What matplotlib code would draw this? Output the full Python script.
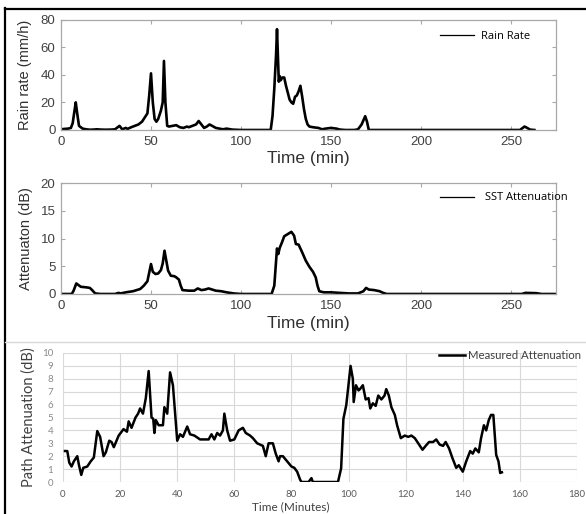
import matplotlib
matplotlib.use("Agg")
import matplotlib.pyplot as plt
from matplotlib.lines import Line2D

# ---------------- data ----------------
rain_t = [0, 2, 4, 5.5, 6.5, 7.5, 8.2, 9, 10, 12, 14, 16, 18, 20, 22, 25, 28, 30, 31.5, 32.5, 34, 36, 37,
          39, 41, 43, 45, 47, 48, 49, 50, 51, 52, 53, 54, 55.5, 56.5, 57.2, 58, 59, 60, 62, 64, 66, 68, 70,
          71, 73, 75, 76.5, 78, 79.5, 81, 82.5, 84, 86, 88, 90, 92, 95, 100, 110, 116.5, 117.5, 118.5, 119.5,
          120, 120.6, 121, 121.5, 122, 123, 124, 125, 126, 127, 128, 129, 130, 131, 132, 133, 134, 135, 136,
          137, 138, 140, 143, 145, 147, 150, 153, 155, 158, 163, 165, 167, 169, 170, 171, 180, 200, 230, 255,
          257.5, 259, 260.5, 263]
rain_v = [0.5, 0.8, 1, 1.5, 5, 14, 20, 12, 3, 1, 0.5, 0.2, 0.3, 0.5, 0.3, 0.2, 0.3, 0.5, 2, 3, 0.5, 1.5, 0.8,
          2, 3, 4, 6, 10, 12, 25, 41, 20, 8, 6, 8, 14, 20, 50, 20, 3, 2.5, 3, 3.5, 2, 1.5, 2.5,
          2, 3, 4, 6.5, 4, 1.5, 2.5, 4, 3, 1.5, 1, 0.5, 1, 0.3, 0, 0, 0, 10, 30, 55,
          73, 50, 35, 39, 36, 38, 38, 32, 27, 22, 20, 19, 24, 25, 28, 32, 24, 15, 8,
          4, 2.5, 2, 1.5, 0.5, 1, 1.5, 1, 0.3, 0, 0, 0.5, 4, 10, 6, 0, 0, 0, 0, 0,
          2.5, 1.5, 0.3, 0]

sst_t = [0, 6, 7, 8.5, 11, 14, 16, 17, 19, 22, 30, 32, 33, 36, 40, 44, 46, 48, 50, 51, 52.5, 54, 55.5, 56.5,
         57.5, 58.5, 59.5, 61, 63, 64, 65.5, 66.5, 67.5, 71, 74, 76, 78, 80, 82, 84, 86, 89, 92, 96, 100,
         117, 118.5, 119.5, 120, 120.7, 121.5, 123, 124, 125.5, 127, 128, 129.5, 130.5, 132, 134, 136, 138,
         140, 141.5, 142.5, 143.5, 146, 150, 155, 160, 165, 168, 169.5, 171, 174, 177, 179, 181, 256, 258,
         264, 267, 275]
sst_v = [0, 0, 0.6, 1.9, 1.3, 1.2, 1.1, 0.8, 0.1, 0, 0, 0.2, 0.1, 0.3, 0.5, 0.9, 1.5, 2.3, 5.4, 4, 3.6, 3.7,
         4.3, 5.5, 7.8, 6, 4.2, 3.3, 3.2, 3, 2.6, 1.5, 0.7, 0.6, 0.6, 1.0, 0.7, 0.8, 1.0, 0.8, 0.6, 0.5, 0.3,
         0.1, 0, 0, 1.5, 6, 8.2, 7.2, 8.3, 9.5, 10.4, 10.7, 11.0, 11.2, 10.5, 9, 8.9, 7.5, 6, 4.9, 4, 3, 1.5,
         0.5, 0.3, 0.3, 0.2, 0.1, 0.1, 0.5, 1.1, 0.8, 0.7, 0.5, 0.2, 0, 0, 0.2, 0.15, 0, 0]

meas_t = [0.7, 1.5, 2.2, 3, 3.8, 5, 5.6, 6.4, 7.1, 8.5, 9.7, 10.8, 12, 13, 14.2, 15, 16.2, 17, 17.8, 19.5,
          21.2, 22.4, 23, 24, 25.4, 26.3, 27, 28, 29, 30, 31, 31.6, 32, 32.5, 33.5, 35, 35.5, 36.5, 37.5,
          38.5, 40, 41, 42, 43.5, 44.5, 46, 48, 51, 52, 53, 54, 55, 56, 56.5, 57.5, 58.5, 60, 61.5, 63, 64,
          65.5, 66.5, 68, 70, 71, 72, 73.5, 74.5, 75.5, 76, 77, 78.5, 80, 81, 82, 83, 83.5, 86, 87, 87.5,
          96.3, 97.4, 98.2, 99.2, 100.7, 101.5, 101.8, 102.6, 103.5, 104, 105, 106, 107, 107.6, 108.5, 109.5,
          110.4, 111.5, 112.6, 113.2, 114.1, 115, 116.2, 117, 118.3, 119.7, 120.9, 122, 123.2, 124.4, 125.9,
          127, 128.2, 129.6, 130.7, 131.9, 133.1, 134, 135.2, 136.3, 137.7, 138.6, 140, 141.2, 142.6, 143.5,
          144.4, 145.6, 146.4, 147.4, 148.2, 149.1, 149.9, 150.7, 151.7, 152.5, 153.1, 153.7]
meas_v = [2.4, 2.4, 1.5, 1.2, 1.6, 2.0, 1.3, 0.55, 1.1, 1.2, 1.6, 1.9, 3.95, 3.5, 2.0, 2.3, 3.2, 3.1, 2.7,
          3.6, 4.1, 3.9, 4.7, 4.2, 5.0, 5.3, 5.7, 5.3, 6.5, 8.6, 5.0, 4.9, 3.8, 4.8, 4.4, 4.4, 5.8, 5.3, 8.5,
          7.5, 3.2, 3.7, 3.5, 4.3, 3.7, 3.6, 3.3, 3.3, 3.7, 3.3, 3.8, 3.6, 4.0, 5.3, 4.0, 3.2, 3.3, 4.0, 4.2,
          3.8, 3.6, 3.4, 3.0, 2.8, 2.0, 3.0, 3.0, 2.2, 1.6, 2.0, 2.0, 1.6, 1.2, 1.1, 0.8, 0.2, 0, 0, 0.3, 0,
          0, 1.06, 4.9, 5.96, 9.0, 8.0, 6.2, 7.5, 7.1, 7.2, 7.5, 6.4, 6.5, 5.7, 6.1, 5.9,
          6.7, 6.4, 6.7, 7.2, 6.7, 5.8, 5.2, 4.4, 3.4, 3.6, 3.5, 3.6, 3.4, 3.0, 2.5,
          2.8, 3.1, 3.1, 3.3, 2.9, 2.8, 3.1, 2.6, 1.9, 1.1, 1.3, 0.8, 1.6, 2.4, 2.2,
          2.6, 2.3, 3.4, 4.4, 4.0, 4.8, 5.2, 5.2, 2.1, 1.6, 0.7, 0.75]

top_xticks = [0, 50, 100, 150, 200, 250]
rain_yticks = [0, 20, 40, 60, 80]
sst_yticks = [0, 5, 10, 15, 20]
meas_xticks = [0, 20, 40, 60, 80, 100, 120, 140, 160, 180]
meas_yticks = list(range(0, 11))

# ---------------- figure ----------------
W, H = 586, 514
fig = plt.figure(figsize=(W / 100, H / 100), dpi=100)
fig.patch.set_facecolor("white")

def fx(px):
    return px / W

def fy(py):
    return 1 - py / H

tick_col = "#404040"
spine_col = "#a8a8a8"


def matlab_axes(rect, t, v, yticks, ylabel, leg_label, leg_xy, leg_pad):
    ax = fig.add_axes(rect)
    ax.plot(t, v, color="black", lw=1.9, label=leg_label)
    ax.set_xlim(0, 275)
    ax.set_ylim(yticks[0], yticks[-1])
    ax.set_xticks(top_xticks)
    ax.set_yticks(yticks)
    for s in ax.spines.values():
        s.set_color(spine_col)
        s.set_linewidth(0.9)
    ax.tick_params(direction="in", length=3, width=0.8, color=spine_col, top=True, right=True,
                   labelsize=9.5, labelcolor=tick_col, pad=4)
    for lab in ax.get_xticklabels() + ax.get_yticklabels():
        lab.set_family("Liberation Sans")
    ax.set_xlabel("Time (min)", fontsize=12.5, color="#303030", family="Liberation Sans")
    ax.xaxis.label.set_va("center")
    ax.set_ylabel(ylabel, fontsize=10.5, color="#303030", family="Liberation Sans")
    ax.yaxis.label.set_va("center")
    leg = ax.legend(loc="center left", bbox_to_anchor=leg_xy, frameon=False, borderpad=0,
                    borderaxespad=0, handlelength=3.0, handletextpad=leg_pad,
                    prop={"family": "Open Sans", "size": 8})
    for h in leg.legend_handles:
        h.set_linewidth(0.9)
    return ax


# Panel 1
ax1 = matlab_axes([fx(61), fy(130), fx(556 - 61), (130 - 19.5) / H], rain_t, rain_v, rain_yticks,
                  "Rain rate (mm/h)", "Rain Rate", (0.766, 0.85), 0.7)
ax1.xaxis.set_label_coords(0.5, -0.262)
ax1.yaxis.set_label_coords(-0.073, 0.5)

# Panel 2
ax2 = matlab_axes([fx(61), fy(294), fx(556 - 61), (294 - 183) / H], sst_t, sst_v, sst_yticks,
                  "Attenuaton (dB)", "SST Attenuation", (0.766, 0.865), 1.0)
ax2.xaxis.set_label_coords(0.5, -0.27)
ax2.yaxis.set_label_coords(-0.07, 0.5)

# Panel 3 (spreadsheet style)
ax3 = fig.add_axes([fx(63), fy(482), fx(577 - 63), (482 - 353) / H])
ax3.plot(meas_t, meas_v, color="black", lw=1.8, label="Measured Attenuation")
ax3.set_xlim(0, 180)
ax3.set_ylim(0, 10)
ax3.set_xticks(meas_xticks)
ax3.set_yticks(meas_yticks)
ax3.grid(True, color="#d9d9d9", lw=0.8)
ax3.set_axisbelow(True)
for s in ax3.spines.values():
    s.set_visible(False)
ax3.tick_params(length=0, labelsize=7, labelcolor="#8a8a8a", pad=7)
ax3.tick_params(axis="x", labelcolor="#595959", pad=6)
for lab in ax3.get_xticklabels() + ax3.get_yticklabels():
    lab.set_family("Lato")
ax3.set_xlabel("Time (Minutes)", fontsize=8.5, color="#404040", family="Lato")
ax3.xaxis.label.set_va("center")
ax3.xaxis.set_label_coords(0.444, -0.194)
ax3.set_ylabel("Path Attenuation (dB)", fontsize=10.5, color="#404040", family="Lato")
ax3.yaxis.label.set_va("center")
ax3.yaxis.set_label_coords(-0.068, 0.5)
leg3 = ax3.legend(loc="center left", bbox_to_anchor=(0.731, 0.977), frameon=False, borderpad=0,
                  borderaxespad=0, handlelength=2.3, handletextpad=0.25,
                  prop={"family": "Lato", "size": 8.2})
for t in leg3.get_texts():
    t.set_color("#404040")

# decorative border lines of the composite figure
fig.add_artist(Line2D([fx(5), fx(5)], [0, fy(8)], transform=fig.transFigure, color="black", lw=1.6))
fig.add_artist(Line2D([fx(5), 1], [fy(9), fy(9)], transform=fig.transFigure, color="black", lw=1.6))
fig.add_artist(Line2D([fx(5), 1], [fy(342), fy(342)], transform=fig.transFigure, color="#d9d9d9", lw=1.0))

fig.savefig("out.png", dpi=100)
